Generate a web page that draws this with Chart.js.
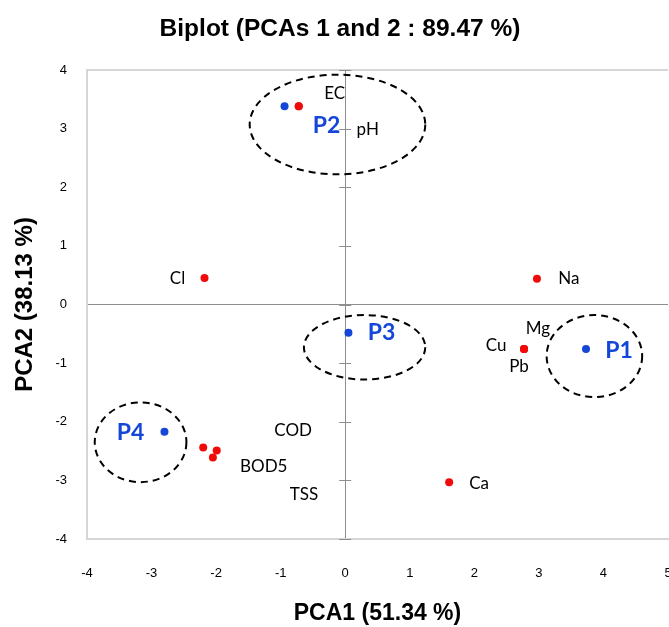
<!DOCTYPE html>
<html>
<head>
<meta charset="utf-8">
<script src="https://cdn.jsdelivr.net/npm/chart.js@4/dist/chart.umd.min.js"></script>
<style>
html,body{margin:0;padding:0;background:#fff;overflow:hidden;width:669px;height:627px;}
#wrap{width:700px;height:627px;}
</style>
</head>
<body>
<div id="wrap"><canvas id="c" width="700" height="627"></canvas></div>
<script>
// ---- data ----
const obsNames = ['P1', 'P2', 'P3', 'P4'];
const obsX = [3.73, -0.94, 0.05, -2.80];
const obsY = [-0.76, 3.38, -0.48, -2.17];

const varNames = ['EC', 'pH', 'Cl', 'Na', 'Mg', 'Cu', 'Pb', 'Ca', 'COD', 'BOD5', 'TSS'];
const varX = [-0.72, -0.72, -2.18, 2.97, 2.77, 2.77, 2.77, 1.61, -2.20, -1.99, -2.05];
const varY = [3.38, 3.38, 0.45, 0.44, -0.76, -0.76, -0.76, -3.03, -2.44, -2.49, -2.61];

// dashed group ellipses (centre and radii in axis units)
const ellNames = ['P1', 'P2', 'P3', 'P4'];
const ellCx = [3.86, -0.12, 0.30, -3.17];
const ellCy = [-0.88, 3.07, -0.73, -2.35];
const ellRx = [0.74, 1.36, 0.94, 0.71];
const ellRy = [0.70, 0.85, 0.55, 0.68];

const xTicks = [-4, -3, -2, -1, 0, 1, 2, 3, 4, 5];
const yTicks = [-4, -3, -2, -1, 0, 1, 2, 3, 4];

const chartTitle = 'Biplot (PCAs 1 and 2 : 89.47 %)';
const xTitle = 'PCA1 (51.34 %)';
const yTitle = 'PCA2 (38.13 %)';

// ---- label placement (pixel offsets from the point) ----
const varLabelOffsets = {
  EC: [36, -13], pH: [69, 23], Cl: [-27, 0], Na: [32, 0], Mg: [14, -21],
  Cu: [-28, -4], Pb: [-5, 17], Ca: [30, 1], COD: [90, -17], BOD5: [47, 16], TSS: [91, 37]
};
const obsLabelOffsets = { P1: [33, 2], P2: [42, 19], P3: [33, 0], P4: [-34, 1] };

const NARROW = "'Liberation Sans Narrow', 'Liberation Sans', Arial, sans-serif";
const LABELFONT = "Lato, 'Open Sans', sans-serif";
const RED = '#f00a0a';
const BLUE = '#1446d8';
const BOX = '#d6d6d6';
const AXIS = '#8e8e8e';

const decorPlugin = {
  id: 'decor',
  beforeDatasetsDraw(chart) {
    const ctx = chart.ctx, xs = chart.scales.x, ys = chart.scales.y;
    const x0 = xs.getPixelForValue(0);
    ctx.save();
    ctx.strokeStyle = AXIS;
    ctx.lineWidth = 1;
    ctx.beginPath();
    yTicks.forEach(v => {
      const y = Math.round(ys.getPixelForValue(v)) + 0.5;
      ctx.moveTo(x0 - 6, y); ctx.lineTo(x0 + 6, y);
    });
    ctx.stroke();
    ctx.restore();
  },
  afterDatasetsDraw(chart) {
    const ctx = chart.ctx, xs = chart.scales.x, ys = chart.scales.y;
    ctx.save();
    // ellipses
    ctx.strokeStyle = '#000';
    ctx.lineWidth = 2;
    ctx.setLineDash([7, 5]);
    ellNames.forEach((n, i) => {
      const cx = xs.getPixelForValue(ellCx[i]);
      const cy = ys.getPixelForValue(ellCy[i]);
      const rx = Math.abs(xs.getPixelForValue(ellCx[i] + ellRx[i]) - cx);
      const ry = Math.abs(ys.getPixelForValue(ellCy[i] + ellRy[i]) - cy);
      ctx.beginPath();
      ctx.ellipse(cx, cy, rx, ry, 0, 0, Math.PI * 2);
      ctx.stroke();
    });
    ctx.setLineDash([]);
    // variable labels
    ctx.textAlign = 'center';
    ctx.textBaseline = 'middle';
    ctx.fillStyle = '#000';
    ctx.font = '17px ' + LABELFONT;
    const vMeta = chart.getDatasetMeta(0);
    varNames.forEach((n, i) => {
      const p = vMeta.data[i];
      const o = varLabelOffsets[n];
      ctx.fillText(n, p.x + o[0], p.y + o[1]);
    });
    ctx.fillStyle = BLUE;
    ctx.font = 'bold 23px ' + LABELFONT;
    const oMeta = chart.getDatasetMeta(1);
    obsNames.forEach((n, i) => {
      const p = oMeta.data[i];
      const o = obsLabelOffsets[n];
      ctx.fillText(n, p.x + o[0], p.y + o[1]);
    });
    ctx.restore();
  }
};

new Chart(document.getElementById('c'), {
  type: 'scatter',
  data: {
    datasets: [
      {
        label: 'Variables',
        data: varX.map((x, i) => ({ x: x, y: varY[i] })),
        backgroundColor: RED, borderColor: RED, pointRadius: 4, pointBorderWidth: 0
      },
      {
        label: 'Observations',
        data: obsX.map((x, i) => ({ x: x, y: obsY[i] })),
        backgroundColor: BLUE, borderColor: BLUE, pointRadius: 4, pointBorderWidth: 0
      }
    ]
  },
  options: {
    responsive: false,
    animation: false,
    devicePixelRatio: 1,
    layout: { padding: { left: 12, right: 32, top: 0, bottom: 0 } },
    plugins: {
      legend: { display: false },
      tooltip: { enabled: false },
      title: {
        display: true, text: chartTitle, color: '#000',
        font: { family: NARROW, size: 24.5, weight: 'bold' },
        padding: { top: 15, bottom: 25.6 }
      }
    },
    scales: {
      x: {
        type: 'linear', position: 'bottom', min: -4, max: 5,
        afterBuildTicks: s => { s.ticks = xTicks.map(v => ({ value: v })); },
        afterFit: s => { s.height = 88; },
        ticks: { padding: 27, color: '#000', font: { family: NARROW, size: 13 } },
        grid: {
          drawTicks: false,
          color: c => c.tick && c.tick.value === 0 ? AXIS : (c.tick && c.tick.value === -4 ? BOX : 'rgba(0,0,0,0)'),
          lineWidth: c => c.tick && c.tick.value === -4 ? 2 : 1
        },
        border: { display: true, color: BOX, width: 2 },
        title: {
          display: true, text: xTitle, color: '#000',
          font: { family: NARROW, size: 23, weight: 'bold' },
          padding: { top: 0, bottom: 0 }
        }
      },
      y: {
        type: 'linear', position: 'left', min: -4, max: 4,
        afterBuildTicks: s => { s.ticks = yTicks.map(v => ({ value: v })); },
        afterFit: s => { s.width = 75; },
        ticks: { padding: 20, color: '#000', font: { family: NARROW, size: 13 } },
        grid: {
          drawTicks: false,
          color: c => c.tick && c.tick.value === 0 ? AXIS : (c.tick && c.tick.value === 4 ? BOX : 'rgba(0,0,0,0)'),
          lineWidth: c => c.tick && c.tick.value === 4 ? 2 : 1
        },
        border: { display: true, color: BOX, width: 2 },
        title: {
          display: true, text: yTitle, color: '#000',
          font: { family: NARROW, size: 24, weight: 'bold' },
          padding: { top: -1.4, bottom: 0 }
        }
      }
    }
  },
  plugins: [decorPlugin]
});
</script>
</body>
</html>
